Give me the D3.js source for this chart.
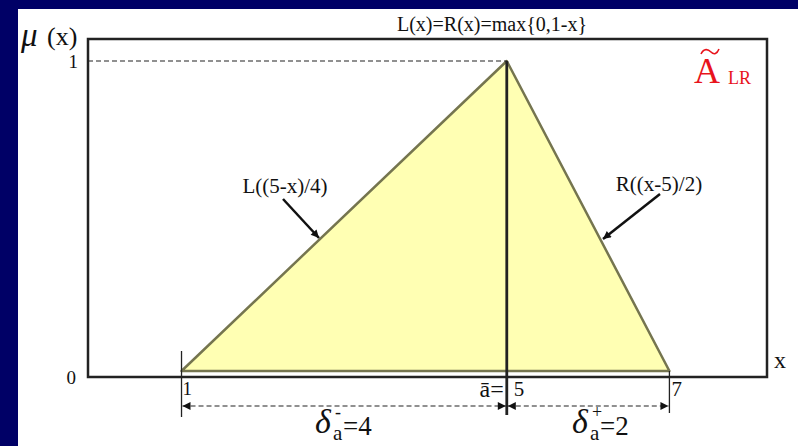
<!DOCTYPE html>
<html>
<head>
<meta charset="utf-8">
<script src="https://cdn.jsdelivr.net/npm/d3@7"></script>
<style>
  body { margin: 0; background: #000066; }
  svg { display: block; }
  text { font-family: "Liberation Serif", "Times New Roman", serif; fill: #111; }
</style>
</head>
<body>
<div id="chart"></div>
<script>
// membership function points (x, mu)
const xPoints = [1, 5, 7];
const muValues = [0, 1, 0];
const xTickLabels = ["1", "5", "7"];
const yTickLabels = ["0", "1"];
const spreads = [4, 2];

const width = 798, height = 446;
const frame = { left: 88, right: 767, top: 39, bottom: 377 };

const svg = d3.select("#chart").append("svg")
    .attr("width", width)
    .attr("height", height);

// white panel on navy background
svg.append("rect")
    .attr("x", 18).attr("y", 9)
    .attr("width", width - 18).attr("height", height - 9)
    .attr("fill", "#ffffff");

const x = d3.scaleLinear().domain([-0.15, 8.2]).range([frame.left, frame.right]);
const y = d3.scaleLinear().domain([0, 1]).range([371, 61]);

const defs = svg.append("defs");
defs.append("marker")
    .attr("id", "head")
    .attr("viewBox", "0 0 10 10")
    .attr("refX", 10).attr("refY", 5)
    .attr("markerWidth", 10).attr("markerHeight", 8)
    .attr("markerUnits", "userSpaceOnUse")
    .attr("orient", "auto-start-reverse")
    .append("path")
    .attr("d", "M0,0 L10,5 L0,10 z")
    .attr("fill", "#111");

const pts = xPoints.map((d, i) => [d, muValues[i]]);

// triangle
svg.append("path")
    .datum(pts)
    .attr("d", d3.line().x(d => x(d[0])).y(d => y(d[1])).curve(d3.curveLinearClosed))
    .attr("fill", "#ffffb3")
    .attr("stroke", "#75754f")
    .attr("stroke-width", 2.5)
    .attr("stroke-linejoin", "round");

// frame
svg.append("path")
    .attr("d", `M${frame.left},${frame.top}H${frame.right}V${frame.bottom}H${frame.left}Z`)
    .attr("fill", "none")
    .attr("stroke", "#222")
    .attr("stroke-width", 2.5);

// dashed line at mu = 1
const peakX = xPoints[muValues.indexOf(1)];
svg.append("line")
    .attr("x1", frame.left).attr("x2", x(peakX))
    .attr("y1", y(1)).attr("y2", y(1))
    .attr("stroke", "#222").attr("stroke-width", 1.2)
    .attr("stroke-dasharray", "5,3");

// vertical line through peak
svg.append("line")
    .attr("x1", x(peakX)).attr("x2", x(peakX))
    .attr("y1", y(1)).attr("y2", 415)
    .attr("stroke", "#222").attr("stroke-width", 2.8);

// tick lines at 1 and 7
svg.append("line")
    .attr("x1", x(xPoints[0])).attr("x2", x(xPoints[0]))
    .attr("y1", 351).attr("y2", 417)
    .attr("stroke", "#222").attr("stroke-width", 1.3);
svg.append("line")
    .attr("x1", x(xPoints[2])).attr("x2", x(xPoints[2]))
    .attr("y1", y(0)).attr("y2", 413)
    .attr("stroke", "#222").attr("stroke-width", 1.3);

// dimension arrows
const dimY = 406;
[[xPoints[0], xPoints[1]], [xPoints[1], xPoints[2]]].forEach(seg => {
    svg.append("line")
        .attr("x1", x(seg[0]) + 1).attr("x2", x(seg[1]) - 1)
        .attr("y1", dimY).attr("y2", dimY)
        .attr("stroke", "#222").attr("stroke-width", 1.2)
        .attr("stroke-dasharray", "5,3")
        .attr("marker-start", "url(#head)")
        .attr("marker-end", "url(#head)");
});

// x tick labels
svg.append("text").attr("x", x(1) + 1).attr("y", 395)
    .style("font-size", "19px").text(xTickLabels[0]);
svg.append("text").attr("x", x(5) + 7).attr("y", 396)
    .style("font-size", "21px").text(xTickLabels[1]);
svg.append("text").attr("x", x(7) + 2).attr("y", 396)
    .style("font-size", "21px").text(xTickLabels[2]);
svg.append("text").attr("x", x(5) - 3).attr("y", 397)
    .attr("text-anchor", "end")
    .style("font-size", "24px").text("\u0101=");

// y tick labels
svg.append("text").attr("x", 76).attr("y", 384)
    .attr("text-anchor", "end")
    .style("font-size", "19px").text(yTickLabels[0]);
svg.append("text").attr("x", 78).attr("y", y(1) + 7)
    .attr("text-anchor", "end")
    .style("font-size", "19px").text(yTickLabels[1]);

// axis names
svg.append("text").attr("x", 21).attr("y", 46)
    .style("font-size", "33px").style("font-style", "italic").text("\u03bc");
svg.append("text").attr("x", 47).attr("y", 45)
    .style("font-size", "26px").text("(x)");
svg.append("text").attr("x", 774).attr("y", 368)
    .style("font-size", "24px").text("x");

// title
svg.append("text").attr("x", 492).attr("y", 31)
    .attr("text-anchor", "middle")
    .style("font-size", "20px").text("L(x)=R(x)=max{0,1-x}");

// red A tilde LR
svg.append("text").attr("x", 694).attr("y", 83)
    .style("fill", "#e8141c").style("font-size", "36px").text("A");
svg.append("text").attr("x", 728).attr("y", 84)
    .style("fill", "#e8141c").style("font-size", "18px").text("LR");
svg.append("path")
    .attr("d", "M701,54 C704,48 708,49 711,52 C714,55 717,54 719,49")
    .attr("fill", "none")
    .attr("stroke", "#e8141c").attr("stroke-width", 1.6);

// L and R labels with arrows
svg.append("text").attr("x", 285).attr("y", 193)
    .attr("text-anchor", "middle")
    .style("font-size", "21px").text("L((5-x)/4)");
svg.append("line")
    .attr("x1", 283).attr("y1", 199).attr("x2", 319).attr("y2", 238)
    .attr("stroke", "#111").attr("stroke-width", 2.5)
    .attr("marker-end", "url(#head)");
svg.append("text").attr("x", 659).attr("y", 191)
    .attr("text-anchor", "middle")
    .style("font-size", "21px").text("R((x-5)/2)");
svg.append("line")
    .attr("x1", 660).attr("y1", 194).attr("x2", 603).attr("y2", 239)
    .attr("stroke", "#111").attr("stroke-width", 2.5)
    .attr("marker-end", "url(#head)");

// spread labels
function deltaLabel(left, sign, signY, val) {
    svg.append("text").attr("x", left).attr("y", 433)
        .style("font-size", "34px").style("font-style", "italic").text("\u03b4");
    svg.append("text").attr("x", left + 20).attr("y", signY)
        .style("font-size", "18px").text(sign);
    svg.append("text").attr("x", left + 18).attr("y", 440)
        .style("font-size", "21px").text("a");
    svg.append("text").attr("x", left + 28).attr("y", 435)
        .style("font-size", "27px").text("=" + val);
}
deltaLabel(315, "-", 418, spreads[0]);
deltaLabel(572, "+", 418, spreads[1]);
</script>
</body>
</html>
